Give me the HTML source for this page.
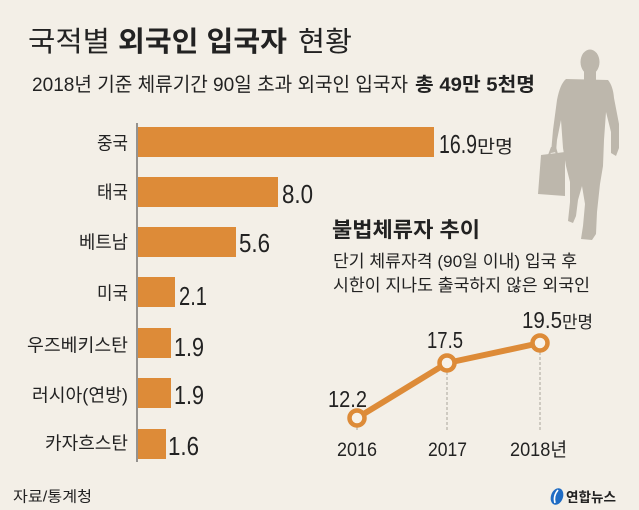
<!DOCTYPE html>
<html>
<head>
<meta charset="utf-8">
<style>
  html, body { margin: 0; padding: 0; background: #f3efe7; }
  svg { display: block; }
  text { font-family: "Liberation Sans", "Noto Sans CJK KR", sans-serif; fill: #222; }
</style>
</head>
<body>
<svg width="639" height="510" viewBox="0 0 639 510" xmlns="http://www.w3.org/2000/svg">
  <rect x="0" y="0" width="639" height="510" fill="#f3efe7"/>

  <!-- Silhouette -->
  <g fill="#bdb7ac">
    <ellipse cx="590" cy="62" rx="9.5" ry="12.5"/>
    <rect x="584" y="70" width="12" height="10"/>
    <path d="M566,79 L608,80 Q613,86 614,98 L619,124 L619,148 L616,156 L611,153 L611,132 L606,112 L604,140 L603,166 L600,184 L597,212 L596,234 L592,240 L581,239 L583,226 L585,204 L582,186 L578,200 L576,216 L573,223 L568,221 L570,202 L570,182 L566,166 L563,148 L561,120 L557,140 L556,152 L551,153 L553,130 L557,100 Q560,84 566,79 Z"/>
    <path d="M541,155 L565,152 L565,196 L538,194 Z"/>
    <path d="M548,155 L551,147 L556,147 L558,154 L556,154 L554,150 L552,150 L550,155 Z"/>
  </g>

  <!-- Title -->
  <text x="28" y="51" font-size="28" textLength="82" lengthAdjust="spacingAndGlyphs" fill="#333">국적별</text>
  <text x="118" y="51" font-size="28" font-weight="bold" textLength="169" lengthAdjust="spacingAndGlyphs" fill="#1a1a1a">외국인 입국자</text>
  <text x="298" y="51" font-size="28" textLength="54" lengthAdjust="spacingAndGlyphs" fill="#333">현황</text>

  <!-- Subtitle -->
  <text x="32" y="91" font-size="19.5" textLength="376" lengthAdjust="spacingAndGlyphs" fill="#222">2018년 기준 체류기간 90일 초과 외국인 입국자</text>
  <text x="415" y="91" font-size="19.5" font-weight="bold" textLength="120" lengthAdjust="spacingAndGlyphs" fill="#1a1a1a">총 49만 5천명</text>

  <!-- Bar chart axis -->
  <line x1="137" y1="123" x2="137" y2="462" stroke="#555" stroke-width="1.2"/>

  <!-- Bars -->
  <g fill="#dd8b38">
    <rect x="138" y="127" width="296" height="30"/>
    <rect x="138" y="177" width="140" height="30"/>
    <rect x="138" y="227" width="98" height="30"/>
    <rect x="138" y="277" width="37" height="30"/>
    <rect x="138" y="328" width="33" height="30"/>
    <rect x="138" y="378" width="33" height="30"/>
    <rect x="138" y="429" width="28" height="30"/>
  </g>

  <!-- Category labels -->
  <g font-size="18" text-anchor="end" fill="#222">
    <text x="128" y="149.5" textLength="31" lengthAdjust="spacingAndGlyphs">중국</text>
    <text x="128" y="198.5" textLength="31" lengthAdjust="spacingAndGlyphs">태국</text>
    <text x="128" y="248.5" textLength="49" lengthAdjust="spacingAndGlyphs">베트남</text>
    <text x="128" y="299.5" textLength="31" lengthAdjust="spacingAndGlyphs">미국</text>
    <text x="128" y="351.5" textLength="101" lengthAdjust="spacingAndGlyphs">우즈베키스탄</text>
    <text x="128" y="401.5" textLength="96" lengthAdjust="spacingAndGlyphs">러시아(연방)</text>
    <text x="128" y="449.5" textLength="83" lengthAdjust="spacingAndGlyphs">카자흐스탄</text>
  </g>

  <!-- Value labels -->
  <g font-size="26" fill="#1a1a1a">
    <text x="439" y="153" textLength="38" lengthAdjust="spacingAndGlyphs">16.9</text>
    <text x="282" y="203" textLength="31" lengthAdjust="spacingAndGlyphs">8.0</text>
    <text x="239" y="252" textLength="31" lengthAdjust="spacingAndGlyphs">5.6</text>
    <text x="179" y="305" textLength="28" lengthAdjust="spacingAndGlyphs">2.1</text>
    <text x="174" y="356" textLength="30" lengthAdjust="spacingAndGlyphs">1.9</text>
    <text x="174" y="404" textLength="30" lengthAdjust="spacingAndGlyphs">1.9</text>
    <text x="168" y="455" textLength="31" lengthAdjust="spacingAndGlyphs">1.6</text>
  </g>
  <text x="477" y="153" font-size="18" textLength="36" lengthAdjust="spacingAndGlyphs" fill="#1a1a1a">만명</text>

  <!-- Line chart title -->
  <text x="332" y="237" font-size="21" font-weight="bold" textLength="148" lengthAdjust="spacingAndGlyphs" fill="#d6883a">불법체류자 추이</text>
  <text x="333" y="267" font-size="17" textLength="244" lengthAdjust="spacingAndGlyphs" fill="#222">단기 체류자격 (90일 이내) 입국 후</text>
  <text x="333" y="291" font-size="17" textLength="257" lengthAdjust="spacingAndGlyphs" fill="#222">시한이 지나도 출국하지 않은 외국인</text>

  <!-- Dashed guides -->
  <g stroke="#a9a49b" stroke-width="1" stroke-dasharray="3,2">
    <line x1="357" y1="427" x2="357" y2="432"/>
    <line x1="447" y1="372" x2="447" y2="431"/>
    <line x1="540" y1="352" x2="540" y2="431"/>
  </g>

  <!-- Line -->
  <polyline points="357,418 447,363 540,343" fill="none" stroke="#dd8b38" stroke-width="6" stroke-linejoin="round"/>
  <g fill="#f7f2ea" stroke="#dd8b38" stroke-width="4.5">
    <circle cx="357" cy="418" r="7.5"/>
    <circle cx="447" cy="363" r="7.5"/>
    <circle cx="540" cy="343" r="7.5"/>
  </g>

  <!-- Line values -->
  <g font-size="23" fill="#1a1a1a">
    <text x="328" y="407" textLength="39" lengthAdjust="spacingAndGlyphs">12.2</text>
    <text x="427" y="348" textLength="36" lengthAdjust="spacingAndGlyphs">17.5</text>
    <text x="522" y="328" textLength="40" lengthAdjust="spacingAndGlyphs">19.5</text>
  </g>
  <text x="562" y="328" font-size="17" textLength="31" lengthAdjust="spacingAndGlyphs" fill="#1a1a1a">만명</text>

  <!-- Years -->
  <g font-size="19" fill="#333">
    <text x="337" y="456" textLength="40" lengthAdjust="spacingAndGlyphs">2016</text>
    <text x="428" y="456" textLength="39" lengthAdjust="spacingAndGlyphs">2017</text>
    <text x="510" y="456" textLength="57" lengthAdjust="spacingAndGlyphs">2018년</text>
  </g>

  <!-- Footer -->
  <text x="13" y="501.5" font-size="15" textLength="79" lengthAdjust="spacingAndGlyphs" fill="#333">자료/통계청</text>

  <!-- Logo -->
  <g>
    <ellipse cx="557" cy="496.5" rx="6" ry="8.5" transform="rotate(20 557 496.5)" fill="#1f6cc4"/>
    <path d="M558,490 Q553,496 555,503" fill="none" stroke="#ffffff" stroke-width="1.6"/>
    <text x="566" y="502" font-size="13.5" font-weight="bold" textLength="50" lengthAdjust="spacingAndGlyphs" fill="#1d3e7a">연합뉴스</text>
  </g>
</svg>
</body>
</html>
